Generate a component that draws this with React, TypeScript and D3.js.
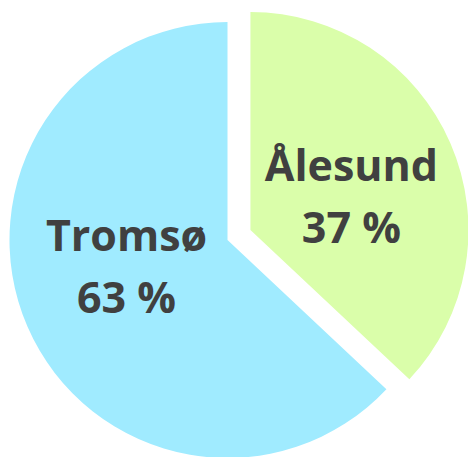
import React, { useEffect } from "react";
import * as d3 from "d3";

const categories = ["Ålesund", "Tromsø"];
const shares = [37, 63];
const colors = ["#DAFEAA", "#A0EBFF"];

const W = 468;
const H = 457;
const CX = 227.5;
const CY = 240;
const R = 218;
const EXPLODE = 25;
const LABEL_R = 110;
// vertical nudge of each label block (layout only)
const labelNudge = [-5, -33];

export default function App() {
  useEffect(() => {
    document.body.style.margin = "0";
  }, []);

  const pie = d3
    .pie<number>()
    .sort(null)
    .value((d) => d)
    .startAngle(0)
    .endAngle(2 * Math.PI);
  const arcs = pie(shares);
  const arc = d3.arc<d3.PieArcDatum<number>>().innerRadius(0).outerRadius(R);

  return (
    <svg width={W} height={H} style={{ display: "block" }}>
      <rect width={W} height={H} fill="#ffffff" />
      {arcs.map((a, i) => {
        const mid = (a.startAngle + a.endAngle) / 2;
        const off = i === 0 ? EXPLODE : 0;
        const ox = Math.sin(mid) * off;
        const oy = -Math.cos(mid) * off;
        const lx = CX + ox + Math.sin(mid) * LABEL_R;
        const ly = CY + oy - Math.cos(mid) * LABEL_R + labelNudge[i];
        return (
          <g key={categories[i]}>
            <path
              d={arc(a) || ""}
              transform={`translate(${CX + ox},${CY + oy})`}
              fill={colors[i]}
            />
            <text
              x={lx}
              y={ly}
              textAnchor="middle"
              fontFamily="'Open Sans', sans-serif"
              fontWeight={700}
              fontSize={43}
              fill="#404040"
            >
              <tspan x={lx} dy={0}>
                {categories[i]}
              </tspan>
              <tspan x={lx} dy={62}>
                {`${shares[i]} %`}
              </tspan>
            </text>
          </g>
        );
      })}
    </svg>
  );
}
